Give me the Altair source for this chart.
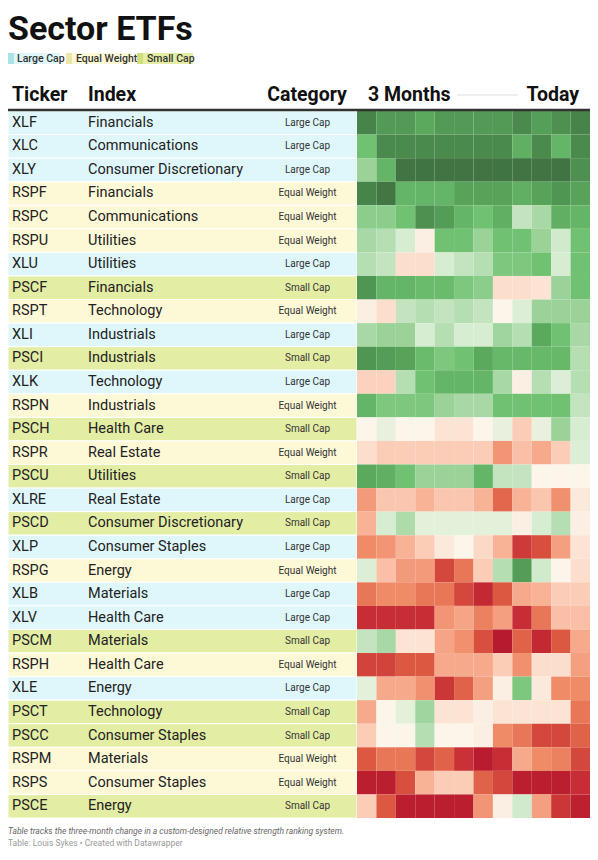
import altair as alt
import pandas as pd

tickers = ["XLF", "XLC", "XLY", "RSPF", "RSPC", "RSPU", "XLU", "PSCF", "RSPT", "XLI",
           "PSCI", "XLK", "RSPN", "PSCH", "RSPR", "PSCU", "XLRE", "PSCD", "XLP", "RSPG",
           "XLB", "XLV", "PSCM", "RSPH", "XLE", "PSCT", "PSCC", "RSPM", "RSPS", "PSCE"]
indices = ["Financials", "Communications", "Consumer Discretionary", "Financials", "Communications",
           "Utilities", "Utilities", "Financials", "Technology", "Industrials",
           "Industrials", "Technology", "Industrials", "Health Care", "Real Estate",
           "Utilities", "Real Estate", "Consumer Discretionary", "Consumer Staples", "Energy",
           "Materials", "Health Care", "Materials", "Health Care", "Energy",
           "Technology", "Consumer Staples", "Materials", "Consumer Staples", "Energy"]
categories = ["Large Cap", "Large Cap", "Large Cap", "Equal Weight", "Equal Weight",
              "Equal Weight", "Large Cap", "Small Cap", "Equal Weight", "Large Cap",
              "Small Cap", "Large Cap", "Equal Weight", "Small Cap", "Equal Weight",
              "Small Cap", "Large Cap", "Small Cap", "Large Cap", "Equal Weight",
              "Large Cap", "Large Cap", "Small Cap", "Equal Weight", "Large Cap",
              "Small Cap", "Small Cap", "Equal Weight", "Equal Weight", "Small Cap"]
weeks = list(range(1, 13))
# relative strength score per week (0 = weakest, 100 = strongest), rows follow tickers
scores = [
    [92, 85, 85, 80, 85, 85, 85, 85, 90, 83, 88, 92],
    [72, 90, 90, 90, 90, 90, 90, 90, 78, 90, 76, 90],
    [66, 76, 97, 97, 97, 97, 97, 97, 97, 97, 97, 88],
    [92, 96, 76, 76, 76, 82, 82, 82, 78, 82, 86, 82],
    [68, 68, 72, 88, 84, 76, 72, 78, 60, 64, 78, 76],
    [64, 62, 57, 50, 72, 72, 66, 72, 72, 66, 58, 72],
    [62, 60, 47, 47, 57, 60, 62, 70, 70, 72, 57, 72],
    [86, 76, 76, 74, 74, 70, 68, 47, 47, 48, 66, 72],
    [50, 47, 60, 62, 60, 62, 60, 51, 56, 66, 66, 66],
    [64, 66, 66, 57, 62, 57, 57, 65, 62, 80, 72, 64],
    [86, 84, 82, 74, 70, 72, 80, 75, 75, 75, 75, 62],
    [45, 45, 62, 72, 76, 76, 76, 64, 50, 62, 56, 62],
    [76, 70, 70, 70, 66, 64, 64, 72, 72, 72, 72, 60],
    [51, 54, 51, 51, 48, 48, 51, 54, 44, 54, 66, 57],
    [47, 44, 44, 44, 44, 44, 44, 34, 42, 38, 44, 56],
    [80, 78, 72, 66, 66, 66, 76, 60, 60, 51, 51, 51],
    [35, 43, 43, 40, 43, 43, 40, 25, 40, 43, 33, 49],
    [40, 57, 63, 55, 55, 55, 55, 55, 50, 57, 62, 50],
    [32, 34, 40, 44, 49, 51, 46, 40, 15, 20, 36, 48],
    [56, 42, 35, 35, 18, 28, 44, 62, 84, 58, 51, 47],
    [28, 32, 32, 28, 28, 18, 10, 22, 38, 40, 44, 44],
    [12, 12, 12, 12, 34, 37, 30, 36, 12, 28, 42, 42],
    [60, 64, 48, 48, 37, 33, 20, 3, 24, 10, 22, 38],
    [17, 17, 22, 22, 38, 38, 38, 44, 33, 47, 47, 36],
    [55, 38, 38, 33, 14, 24, 36, 50, 70, 49, 32, 32],
    [38, 51, 55, 65, 48, 48, 50, 48, 48, 48, 48, 28],
    [44, 51, 51, 62, 51, 51, 50, 32, 28, 18, 18, 24],
    [22, 28, 28, 18, 24, 13, 4, 12, 38, 32, 30, 18],
    [5, 5, 20, 40, 44, 44, 24, 18, 5, 5, 5, 12],
    [44, 22, 5, 5, 5, 5, 34, 50, 58, 36, 14, 6],
]

legend_labels = ["Large Cap", "Equal Weight", "Small Cap"]
row_colors = ["#dff7fa", "#fdf9d7", "#e3eda4"]
chip_colors = ["#a9e3e8", "#ece7a8", "#cfdd7c"]

score_domain = [0, 12, 22, 32, 40, 46, 51, 57, 64, 72, 80, 90, 100]
score_range = ["#b0142b", "#c72d35", "#dc5840", "#f08b68", "#f8b397", "#fcd8c6", "#fbf5ea",
               "#d7edd2", "#a8d8a5", "#70c172", "#5aa95d", "#4a8a4c", "#3c6a3e"]

rows = pd.DataFrame({"Ticker": tickers, "Index": indices, "Category": categories})
cells = pd.DataFrame([
    {"Ticker": t, "Week": w, "Score": s}
    for t, row in zip(tickers, scores) for w, s in zip(weeks, row)
])

W, H = 233, 707
LEFT = -349

y_enc = alt.Y("Ticker:N", sort=tickers, axis=None,
              scale=alt.Scale(paddingInner=0, paddingOuter=0))

bg = alt.Chart(rows).mark_rect(stroke="white", strokeWidth=1).encode(
    y=y_enc, x=alt.value(LEFT), x2=alt.value(0),
    fill=alt.Fill("Category:N", scale=alt.Scale(domain=legend_labels, range=row_colors), legend=None),
)

heat = alt.Chart(cells).mark_rect().encode(
    x=alt.X("Week:O", axis=None, scale=alt.Scale(paddingInner=0, paddingOuter=0)),
    y=y_enc,
    color=alt.Color("Score:Q", scale=alt.Scale(domain=score_domain, range=score_range,
                                                interpolate="rgb"), legend=None),
)

tick_text = alt.Chart(rows).mark_text(align="left", baseline="middle", fontSize=14.5,
                                      color="#222").encode(
    y=y_enc, x=alt.value(-345), text="Ticker:N")
idx_text = alt.Chart(rows).mark_text(align="left", baseline="middle", fontSize=14.5,
                                     color="#222").encode(
    y=y_enc, x=alt.value(-269), text="Index:N")
cat_text = alt.Chart(rows).mark_text(align="center", baseline="middle", fontSize=10,
                                     color="#333").encode(
    y=y_enc, x=alt.value(-49.5), text="Category:N")


def label(text, x, y, **kw):
    return alt.Chart(pd.DataFrame({"t": [text]})).mark_text(**kw).encode(
        text="t:N", x=alt.value(x), y=alt.value(y))


def hrule(x1, x2, y, color, width):
    return alt.Chart(pd.DataFrame({"t": [0]})).mark_rule(color=color, strokeWidth=width).encode(
        x=alt.value(x1), x2=alt.value(x2), y=alt.value(y))


layers = [bg, heat, tick_text, idx_text, cat_text]

# title
layers.append(label("Sector ETFs", LEFT, -71, align="left", baseline="alphabetic",
                    fontSize=34, fontWeight="bold", color="#111"))

# legend
leg_pos = [(-349, -340, -297), (-291, -281, -225), (-220, -210, -164)]
for lab, rc, cc, (cx, tx, ex) in zip(legend_labels, row_colors, chip_colors, leg_pos):
    d = pd.DataFrame({"Category": [lab]})
    layers.append(alt.Chart(d).mark_rect(color=rc).encode(
        x=alt.value(cx), x2=alt.value(ex), y=alt.value(-58), y2=alt.value(-47)))
    layers.append(alt.Chart(d).mark_rect(color=cc).encode(
        x=alt.value(cx), x2=alt.value(cx + 6), y=alt.value(-58), y2=alt.value(-47)))
    layers.append(alt.Chart(d).mark_text(align="left", baseline="middle", fontSize=10.5,
                                         fontWeight=500, color="#333").encode(
        text="Category:N", x=alt.value(tx), y=alt.value(-52.5)))

# column headers
hdr = dict(baseline="alphabetic", fontSize=19.5, fontWeight="bold", color="#111")
layers.append(label("Ticker", -345, -10, align="left", **hdr))
layers.append(label("Index", -269, -10, align="left", **hdr))
layers.append(label("Category", -50, -10, align="center", **hdr))
layers.append(label("3 Months", 11, -10, align="left", **hdr))
layers.append(label("Today", 222, -10, align="right", **hdr))
layers.append(hrule(100, 161, -16, "#dddddd", 1))
layers.append(hrule(LEFT, W, -1, "#333333", 2.5))

# footer
layers.append(label("Table tracks the three-month change in a custom-designed relative strength ranking system.",
                    LEFT, 720, align="left", baseline="middle", fontSize=8.5, fontStyle="italic",
                    color="#666"))
layers.append(label("Table: Louis Sykes \u2022 Created with Datawrapper",
                    LEFT, 732, align="left", baseline="middle", fontSize=8.5, color="#999"))

chart = alt.layer(*layers).resolve_scale(
    color="independent", fill="independent"
).properties(
    width=W, height=H,
    autosize=alt.AutoSizeParams(type="none"),
    padding={"left": 349, "top": 103, "right": 0, "bottom": 31},
).configure(font="Roboto").configure_view(stroke=None)

chart.save("out.html", embed_options={"renderer": "svg", "actions": False})
